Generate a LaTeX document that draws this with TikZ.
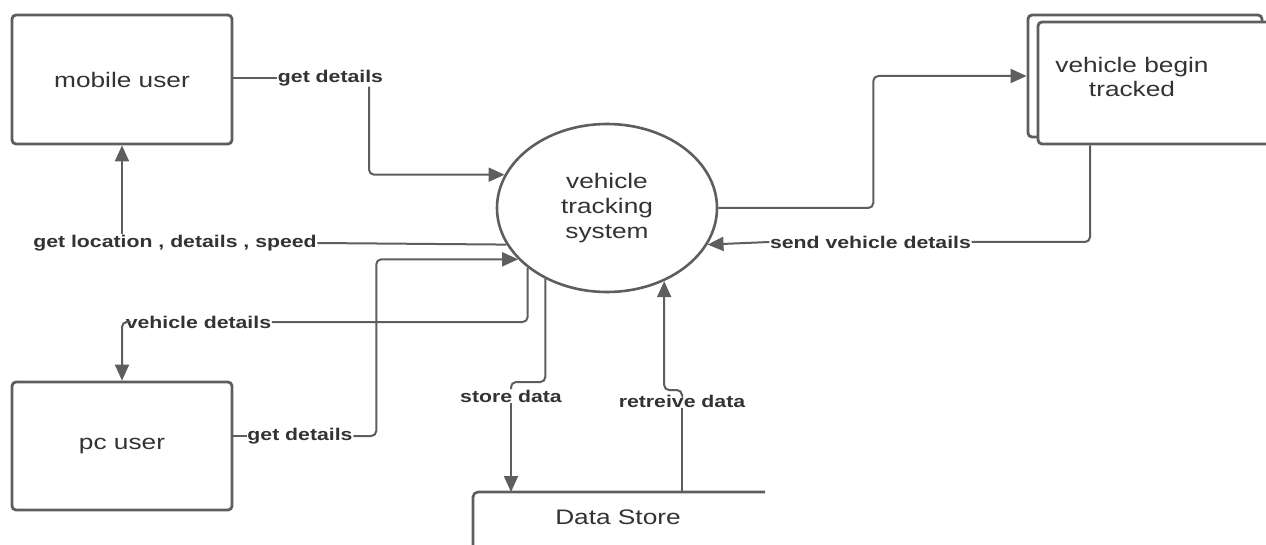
\documentclass[tikz,border=0pt]{standalone}
\usepackage{fontspec}
\usetikzlibrary{arrows.meta,shapes.geometric,calc}
\newfontfamily\dfdfont[FakeStretch=1.25]{Liberation Sans}
\definecolor{linec}{HTML}{5E5E5E}
\definecolor{textc}{HTML}{333333}
\begin{document}
\begin{tikzpicture}[x=1pt,y=-1pt,
  entity/.style={draw=linec,line width=2.8pt,rounded corners=4pt,fill=white,
    text=textc,font=\dfdfont\fontsize{21}{24}\selectfont,align=center,inner sep=0pt},
  proc/.style={ellipse,draw=linec,line width=2.6pt,fill=white,text=textc,
    minimum width=220pt,minimum height=168pt,inner sep=0pt,align=center,
    font=\dfdfont\fontsize{21}{25}\selectfont},
  lbl/.style={text=textc,font=\dfdfont\bfseries\fontsize{17}{20}\selectfont,inner sep=0.5pt},
  plain/.style={text=textc,font=\dfdfont\fontsize{21}{24}\selectfont,inner sep=0pt},
  conn/.style={draw=linec,line width=2pt,rounded corners=5pt},
  arr/.style={conn,-{Triangle[length=16pt,width=14pt]}},
  store/.style={draw=linec,line width=2.6pt,rounded corners=5pt}]
\clip (0,0) rectangle (1266,545);
\fill[white] (0,0) rectangle (1266,545);

% entities
\node[entity,minimum width=220pt,minimum height=129pt] (mu) at (122,79.5) {mobile user};
\node[entity,minimum width=220pt,minimum height=128pt] (pc) at (122,446) {pc user};
\node[proc] (vts) at (607,208) {vehicle\\tracking\\system};

% vehicle begin tracked (stacked boxes)
\node[entity,minimum width=234pt,minimum height=122pt] (bk) at (1145,76) {};
\node[entity,minimum width=252pt,minimum height=122pt] (fr) at (1164,83) {};
\node[plain,align=center] (vbt) at (1132,77) {vehicle begin\\tracked};

% data store
\coordinate (dsl) at (473,492);
\coordinate (dsr) at (765,492);
\coordinate (dsb) at (473,560);
\draw[store] (dsb) -- (dsl) -- (dsr);
\node[plain] (ds) at (618,517) {Data Store};

% labels
\node[lbl] (gd1) at (330.5,78) {get details};
\node[lbl] (gl) at (175,243) {get location , details , speed};
\node[lbl] (gd2) at (300,436) {get details};
\node[lbl] (vd) at (198.5,322) {vehicle details};
\node[lbl] (sd) at (511,396) {store data};
\node[lbl] (rd) at (682,401) {retreive data};
\node[lbl] (svd) at (870.5,242) {send vehicle details};

% connectors
\draw[conn] (mu.east |- gd1.west) -- (gd1.west);
\draw[arr] ([xshift=38.5pt]gd1.south) |- (vts.162);

\draw[conn] (vts.200.5) -- (gl.east);
\draw[arr] (gl.north -| mu.south) -- (mu.south);

\draw[conn] (pc.east |- gd2.west) -- (gd2.west);
\draw[arr] (gd2.east) -- ++(23,0) |- (vts.210);

\draw[conn] (vts.217) |- (vd.east);
\draw[arr] (vd.west) -| (pc.north);

\draw[conn] (vts.229) |- ($(sd.north)+(0,-7)$) -- (sd.north);
\draw[arr] (sd.south) -- (sd.south |- dsl);

\draw[conn] (rd.south |- dsl) -- (rd.south);
\draw[arr] (rd.north) -- ++(0,-4) -| (vts.308);

\draw[arr] (vts.east) -- ++(155,0) |- (bk.west);

\draw[conn] ([xshift=-74pt]fr.south) |- (svd.east);
\draw[arr] (svd.west) -- (vts.340);
\end{tikzpicture}
\end{document}
